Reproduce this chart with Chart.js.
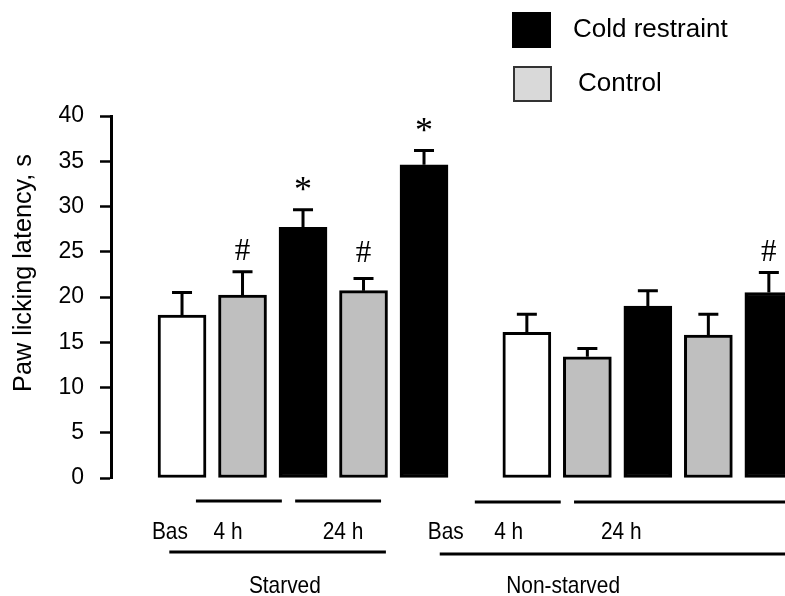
<!DOCTYPE html>
<html>
<head>
<meta charset="utf-8">
<script src="https://cdn.jsdelivr.net/npm/chart.js@4/dist/chart.umd.min.js"></script>
<style>
  body { margin: 0; background: #fff; }
  #wrap { width: 785px; height: 596px; }
</style>
</head>
<body>
<div id="wrap"><canvas id="chart" width="785" height="596"></canvas></div>
<script>
// values (seconds)
var groups = ['Starved', 'Non-starved'];
var timeLabels = ['Bas', '4 h', '24 h'];
var conditions = ['Basal', 'Control', 'Cold restraint'];

var starvedMean = [18.0, 20.2, 27.7, 20.7, 34.6];
var starvedErr = [2.5, 2.6, 1.95, 1.35, 1.6];
var starvedMarks = ['', '#', '*', '#', '*'];

var nonStarvedMean = [16.1, 13.4, 19.0, 15.8, 20.5];
var nonStarvedErr = [2.0, 0.9, 1.7, 2.3, 2.2];
var nonStarvedMarks = ['', '', '', '', '#'];

// which condition each bar belongs to (0 basal, 1 control, 2 cold)
var barCondition = [0, 1, 2, 1, 2];

// layout: bar slots along the x axis
var groupStart = [0, 5.7];
var colors = ['#ffffff', '#bfbfbf', '#000000'];
var font = '"Liberation Sans", Arial, sans-serif';

var means = [starvedMean, nonStarvedMean];
var errs = [starvedErr, nonStarvedErr];
var marks = [starvedMarks, nonStarvedMarks];

var datasets = conditions.map(function (name, c) {
	var pts = [];
	for (var g = 0; g < groups.length; g++) {
		for (var i = 0; i < barCondition.length; i++) {
			if (barCondition[i] === c) {
				pts.push({ x: groupStart[g] + i, y: means[g][i], err: errs[g][i], mark: marks[g][i] });
			}
		}
	}
	return {
		label: name,
		data: pts,
		backgroundColor: colors[c],
		borderColor: '#000',
		borderWidth: 3,
		borderSkipped: false,
		barThickness: 48,
		grouped: false
	};
});

// condensed text like the original figure
function narrowText(ctx, text, x, y, sx) {
	ctx.save();
	ctx.translate(x, y);
	ctx.scale(sx, 1);
	ctx.fillText(text, 0, 0);
	ctx.restore();
}

var extras = {
	id: 'extras',
	afterDatasetsDraw: function (chart) {
		var ctx = chart.ctx;
		var ys = chart.scales.y;
		var xs = chart.scales.x;
		ctx.save();

		// error bars and significance marks
		chart.data.datasets.forEach(function (ds, di) {
			var meta = chart.getDatasetMeta(di);
			ds.data.forEach(function (p, i) {
				var bar = meta.data[i];
				var top = ys.getPixelForValue(p.y + p.err);
				ctx.strokeStyle = '#000';
				ctx.lineWidth = 3;
				ctx.beginPath();
				ctx.moveTo(bar.x, bar.y);
				ctx.lineTo(bar.x, top);
				ctx.moveTo(bar.x - 10, top);
				ctx.lineTo(bar.x + 10, top);
				ctx.stroke();
				if (p.mark) {
					ctx.fillStyle = '#000';
					ctx.textAlign = 'center';
					ctx.textBaseline = 'middle';
					if (p.mark === '*') {
						ctx.font = '36px "Liberation Serif", "Times New Roman", serif';
						ctx.fillText('*', bar.x, top - 18);
					} else {
						ctx.font = '31px "Liberation Serif", "Times New Roman", serif';
						ctx.fillText('#', bar.x, Math.min(top - 20, 254));
					}
				}
			});
		});

		// y axis title
		ctx.fillStyle = '#000';
		ctx.textAlign = 'center';
		ctx.textBaseline = 'middle';
		ctx.font = '26px ' + font;
		ctx.save();
		ctx.translate(24, 273);
		ctx.rotate(-Math.PI / 2);
		narrowText(ctx, 'Paw licking latency, s', 0, 0, 0.97);
		ctx.restore();

		// time and group labels below the bars
		var px = function (v) { return xs.getPixelForValue(v); };
		var under = [
			{ bas: -0.2, l4: [0.23, 1.65], t4: 0.76, l24: [1.87, 3.29], t24: 2.66, big: [-0.21, 3.37], grp: 1.70, dy: 0 },
			{ bas: 4.36, l4: [4.84, 6.26], t4: 5.40, l24: [6.48, 10.6], t24: 7.26, big: [4.26, 10.6], grp: 6.30, dy: 1 }
		];
		ctx.lineWidth = 3;
		under.forEach(function (u, g) {
			ctx.beginPath();
			ctx.moveTo(px(u.l4[0]), 501 + u.dy); ctx.lineTo(px(u.l4[1]), 501 + u.dy);
			ctx.moveTo(px(u.l24[0]), 501 + u.dy); ctx.lineTo(px(u.l24[1]), 501 + u.dy);
			ctx.moveTo(px(u.big[0]), 552 + u.dy * 2); ctx.lineTo(px(u.big[1]), 552 + u.dy * 2);
			ctx.stroke();
			ctx.font = '24px ' + font;
			narrowText(ctx, timeLabels[0], px(u.bas), 532, 0.87);
			narrowText(ctx, timeLabels[1], px(u.t4), 532, 0.87);
			narrowText(ctx, timeLabels[2], px(u.t24), 532, 0.87);
			narrowText(ctx, groups[g], px(u.grp), 586, 0.87);
		});

		// legend
		ctx.lineWidth = 2;
		ctx.fillStyle = '#000';
		ctx.fillRect(512, 12, 39, 36);
		ctx.fillStyle = '#d9d9d9';
		ctx.fillRect(514, 67, 37, 34);
		ctx.strokeStyle = '#333';
		ctx.strokeRect(514, 67, 37, 34);
		ctx.fillStyle = '#000';
		ctx.font = '26px ' + font;
		ctx.textAlign = 'left';
		ctx.fillText(conditions[2], 573, 30);
		ctx.fillText(conditions[1], 578, 84);
		ctx.restore();
	}
};

new Chart(document.getElementById('chart'), {
	type: 'bar',
	data: { datasets: datasets },
	options: {
		responsive: false,
		animation: false,
		layout: { padding: { top: 116, bottom: 118, left: 0, right: 0 } },
		plugins: { legend: { display: false }, tooltip: { enabled: false } },
		scales: {
			x: {
				type: 'linear',
				offset: false,
				min: -1.174,
				max: 9.967,
				display: false
			},
			y: {
				min: 0,
				max: 40,
				afterFit: function (scale) { scale.width = 111; },
				ticks: {
					stepSize: 5,
					color: '#000',
					padding: 16,
					font: { family: font, size: 23 }
				},
				grid: {
					drawOnChartArea: false,
					tickLength: 11,
					tickWidth: 2.5,
					tickColor: '#000'
				},
				border: { display: true, color: '#000', width: 3 }
			}
		}
	},
	plugins: [extras]
});
</script>
</body>
</html>
